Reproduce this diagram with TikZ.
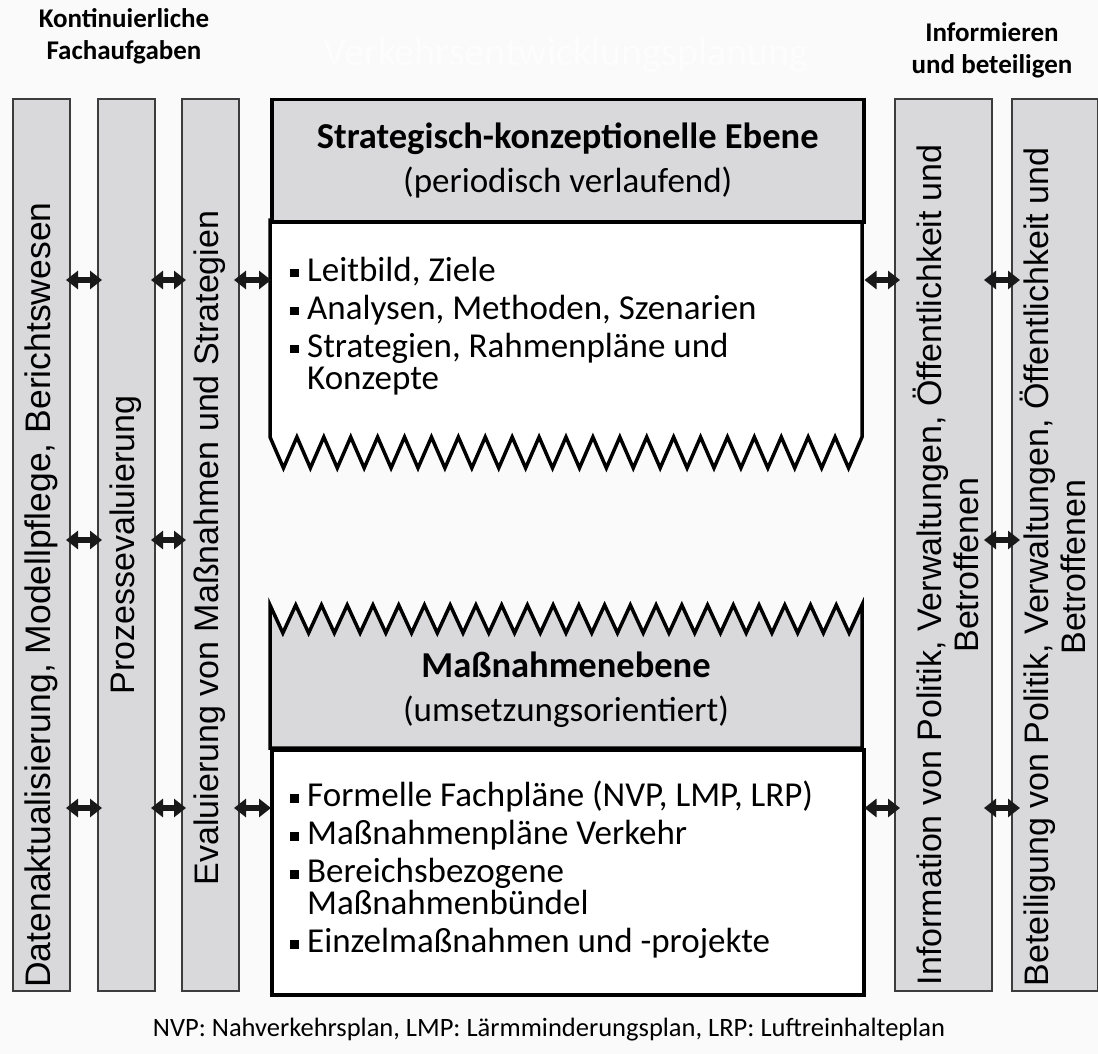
\documentclass[tikz,border=0pt]{standalone}
\usepackage{fontspec}
\setmainfont{Carlito}
\newfontfamily\arial{Liberation Sans}
\usetikzlibrary{arrows.meta}
\definecolor{boxgray}{HTML}{D9D9DB}
\definecolor{linegray}{HTML}{3C3C3C}
\newcommand{\sq}{\makebox[17pt][l]{\rule[4pt]{8.5pt}{8.5pt}}}

\begin{document}
\begin{tikzpicture}[x=1pt, y=-1pt,
    col/.style={draw=linegray, line width=2pt, fill=boxgray, minimum width=57pt, minimum height=892pt, anchor=north west, inner sep=0pt},
    wide/.style={col, minimum width=97pt},
    frame/.style={line width=3.5pt, line join=miter},
    vert/.style={rotate=90, font=\arial\fontsize{34}{37}\selectfont, align=center, inner sep=0pt},
    link/.style={<->, >={Triangle[length=12pt,width=18pt]}, line width=6pt, black!90, shorten <=-5pt, shorten >=-5pt},
    big/.style={font=\fontsize{35}{44}\selectfont, align=center},
    list/.style={font=\fontsize{35}{32}\selectfont, align=left, anchor=west, inner sep=0pt}]
      \fill[black!2] (0,0) rectangle (1098,1054);
      \useasboundingbox (0,0) rectangle (1098,1054);

      \node[black!0.6, font=\fontsize{40}{40}\selectfont] (v) at (566,55) {Verkehrsentwicklungsplanung};
      \node[font=\bfseries\fontsize{27}{32}\selectfont, align=center] (k) at (124,36) {Kontinuierliche\\Fachaufgaben};
      \node[font=\bfseries\fontsize{27}{32}\selectfont, align=center] (f) at (992,50) {Informieren\\und beteiligen};

      \node[col] (1) at (12,98) {};
      \node[col] (2) at (97,98) {};
      \node[col] (3) at (181,98) {};
      \node[wide] (6) at (894,98) {};
      \node[wide, minimum width=86pt] (7) at (1011,98) {};

      \node[vert, font=\arial\fontsize{35.5}{37}\selectfont] (t1) at (41,595) {Datenaktualisierung, Modellpflege, Berichtswesen};
      \node[vert] (t2) at (126,545) {Prozessevaluierung};
      \node[vert] (t3) at (210,548) {Evaluierung von Maßnahmen und Strategien};
      \node[vert] (t6) at (946,565) {Information von Politik, Verwaltungen, Öffentlichkeit und\\Betroffenen};
      \node[vert] (t7) at (1053,567) {Beteiligung von Politik, Verwaltungen, Öffentlichkeit und\\Betroffenen};

      \filldraw[frame, fill=white] (270,220) -- (270,437)
        \foreach \i in {1,...,22} {-- ++(13.4545,31) -- ++(13.4545,-31)} -- (862,220) -- cycle;
      \node[draw, frame, fill=boxgray, big, minimum width=592pt, minimum height=122pt, anchor=north west] (4) at (270,98)
        {{\fontsize{36.5}{44}\selectfont\textbf{Strategisch-konzeptionelle Ebene}}\\(periodisch verlaufend)};

      \filldraw[frame, fill=boxgray] (270,748) -- (270,605)
        \foreach \i in {1,...,23} {-- ++(12.8696,28) -- ++(12.8696,-28)} -- (862,748) -- cycle;
      \node[draw, frame, fill=white, minimum width=592pt, minimum height=245pt, anchor=north west] (5) at (270,748) {};
      \node[big] (m) at (566,690) {{\fontsize{36.5}{44}\selectfont\textbf{Maßnahmenebene}}\\(umsetzungsorientiert)};

      \node[list] (l4) at (290,326) {\sq Leitbild, Ziele\\[6pt]\sq Analysen, Methoden, Szenarien\\[6pt]\sq Strategien, Rahmenpläne und\\\hspace*{17pt}Konzepte};
      \node[list] (l5) at (290,870) {\sq Formelle Fachpläne (NVP, LMP, LRP)\\[6pt]\sq Maßnahmenpläne Verkehr\\[6pt]\sq Bereichsbezogene\\\hspace*{17pt}Maßnahmenbündel\\[6pt]\sq Einzelmaßnahmen und -projekte};

      \node[font=\fontsize{26.5}{30}\selectfont] (n) at (549,1030) {NVP: Nahverkehrsplan, LMP: Lärmminderungsplan, LRP: Luftreinhalteplan};

      \coordinate (a) at (0,280);
      \coordinate (b) at (0,540);
      \coordinate (c) at (0,808);
      \draw[link] (1.east |- a) -- (2.west |- a);
      \draw[link] (2.east |- a) -- (3.west |- a);
      \draw[link, shorten <=-6pt, shorten >=-1pt] (3.east |- a) -- (4.west |- a);
      \draw[link, shorten <=-1pt, shorten >=-6pt] (4.east |- a) -- (6.west |- a);
      \draw[link, shorten <=-9pt, shorten >=-9pt] (6.east |- a) -- (7.west |- a);
      \draw[link] (1.east |- b) -- (2.west |- b);
      \draw[link] (2.east |- b) -- (3.west |- b);
      \draw[link, shorten <=-9pt, shorten >=-9pt] (6.east |- b) -- (7.west |- b);
      \draw[link] (1.east |- c) -- (2.west |- c);
      \draw[link] (2.east |- c) -- (3.west |- c);
      \draw[link, shorten <=-6pt, shorten >=-1pt] (3.east |- c) -- (5.west |- c);
      \draw[link, shorten <=-1pt, shorten >=-6pt] (5.east |- c) -- (6.west |- c);
      \draw[link, shorten <=-9pt, shorten >=-9pt] (6.east |- c) -- (7.west |- c);
    \end{tikzpicture}
\end{document}
